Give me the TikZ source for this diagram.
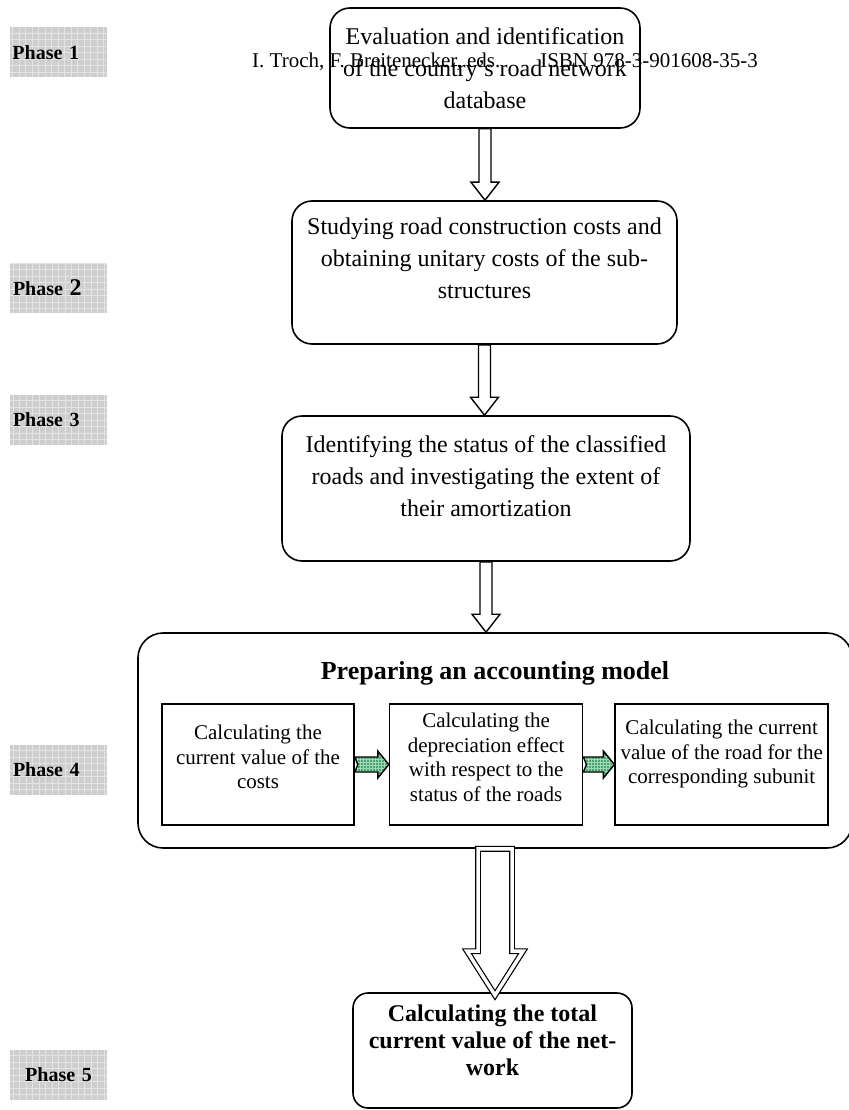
\documentclass[tikz,border=0pt]{standalone}
\usepackage{fontspec}
\setmainfont{Liberation Serif}
\usetikzlibrary{positioning, calc}
\definecolor{phasefill}{RGB}{206,206,206}
\definecolor{phasegrid}{RGB}{228,228,228}
\definecolor{arrowgreen}{RGB}{72,165,112}
\definecolor{arrowgrid}{RGB}{160,215,180}

\begin{document}
\begin{tikzpicture}[x=1pt, y=-1pt]
    \tikzstyle{stagebox} = [draw, line width=1.6pt, rounded corners=20pt, inner sep=0pt]
    \tikzstyle{subbox} = [draw, line width=1.6pt, inner sep=0pt, minimum height=121pt]
    \tikzstyle{stagetext} = [inner sep=0pt, align=center, font=\fontsize{24}{32}\selectfont]
    \tikzstyle{subtext} = [inner sep=0pt, align=center, font=\fontsize{21}{24.5}\selectfont]
    \tikzstyle{phaselabel} = [fill=phasefill, minimum width=97pt, minimum height=50pt, inner xsep=3pt, text width=91pt, align=left, font=\fontsize{20}{24}\selectfont\bfseries,
        path picture={\draw[phasegrid, line width=0.8pt, step=6.5pt] (path picture bounding box.south west) grid (path picture bounding box.north east);}]
    \tikzstyle{hollowarrow} = [draw, line width=1.4pt, fill=white, line join=miter]
    \tikzstyle{greenarrow} = [draw, line width=1.4pt, fill=arrowgreen, line join=miter,
        path picture={\draw[arrowgrid, line width=0.5pt, step=3pt] (path picture bounding box.south west) grid (path picture bounding box.north east);}]

    \useasboundingbox (0,0) rectangle (848,1110);

    % phase labels on the left
    \node [phaselabel] (p1) at (58,52.5) {Phase 1};
    \node [phaselabel] (p2) at (58.5,288) {Phase {\fontsize{24}{24}\selectfont 2}};
    \node [phaselabel] (p3) at (58.5,420) {Phase 3};
    \node [phaselabel] (p4) at (58.5,770) {Phase 4};
    \node [phaselabel, align=center] (p5) at (58.5,1075) {Phase 5};

    \node [anchor=base west, inner sep=0pt, font=\fontsize{21}{24}\selectfont] (hdr) at (252,68) {I. Troch, F. Breitenecker, eds.\hspace{40pt}ISBN 978-3-901608-35-3};

    % main stages
    \node [stagebox, stagetext, minimum width=310pt, minimum height=120pt] (b1) at (485,68) {Evaluation and identification\\of the country's road network\\database};

    \node [stagebox, minimum width=385pt, minimum height=143pt] (b2) at (484.5,272.5) {};
    \node [stagetext, below=17.6pt of b2.north] (t2) {Studying road construction costs and\\obtaining unitary costs of the sub-\\structures};

    \node [stagebox, minimum width=408pt, minimum height=145pt] (b3) at (486,488.5) {};
    \node [stagetext, below=20.6pt of b3.north] (t3) {Identifying the status of the classified\\roads and investigating the extent of\\their amortization};

    \node [stagebox, rounded corners=25pt, minimum width=714pt, minimum height=215pt] (b4) at (495,740.5) {};
    \node [inner sep=0pt, font=\fontsize{26}{30}\selectfont\bfseries, below=29.4pt of b4.north] (t4) {Preparing an accounting model};

    % accounting sub-steps
    \node [subbox, minimum width=192pt] (sa) at (258,764.5) {};
    \node [subbox, minimum width=193pt, right=34pt of sa] (sb) {};
    \node [subbox, minimum width=213pt, right=31pt of sb] (sc) {};
    \node [subtext, below=21.7pt of sa.north] (ta) {Calculating the\\current value of the\\costs};
    \node [subtext, below=9.7pt of sb.north] (tb) {Calculating the\\depreciation effect\\with respect to the\\status of the roads};
    \node [subtext, below=16.7pt of sc.north] (tc) {Calculating the current\\value of the road for the\\corresponding subunit};

    \node [stagebox, rounded corners=15pt, minimum width=279pt, minimum height=115pt] (b5) at (492.5,1050.5) {};
    \node [inner sep=0pt, align=center, font=\fontsize{24}{27}\selectfont\bfseries, below=12.8pt of b5.north] (t5) {Calculating the total\\current value of the net-\\work};

    % connectors
    \draw [hollowarrow] let \p1=(b1.south), \p2=(b2.north) in ({\x1-6pt},\y1) -- ({\x1+6pt},\y1) -- ({\x1+6pt},{\y2+18pt}) -- ({\x1+14pt},{\y2+18pt}) -- (\x1,\y2) -- ({\x1-14pt},{\y2+18pt}) -- ({\x1-6pt},{\y2+18pt}) -- cycle;
    \draw [hollowarrow] let \p1=(b2.south), \p2=(b3.north) in ({\x1-6pt},\y1) -- ({\x1+6pt},\y1) -- ({\x1+6pt},{\y2+18pt}) -- ({\x1+14pt},{\y2+18pt}) -- (\x1,\y2) -- ({\x1-14pt},{\y2+18pt}) -- ({\x1-6pt},{\y2+18pt}) -- cycle;
    \draw [hollowarrow] let \p1=(b3.south), \p2=(b4.north) in ({\x1-6pt},\y1) -- ({\x1+6pt},\y1) -- ({\x1+6pt},{\y2+18pt}) -- ({\x1+14pt},{\y2+18pt}) -- (\x1,\y2) -- ({\x1-14pt},{\y2+18pt}) -- ({\x1-6pt},{\y2+18pt}) -- cycle;

    \draw [greenarrow] let \p1=(sa.east), \p2=(sb.west) in (\x1,{\y1+7.5pt}) -- ({\x2-11pt},{\y1+7.5pt}) -- ({\x2-11pt},{\y1+13.5pt}) -- (\x2,\y1) -- ({\x2-11pt},{\y1-13.5pt}) -- ({\x2-11pt},{\y1-7.5pt}) -- (\x1,{\y1-7.5pt}) -- ({\x1+3pt},\y1) -- cycle;
    \draw [greenarrow] let \p1=(sb.east), \p2=(sc.west) in (\x1,{\y1+7.5pt}) -- ({\x2-11pt},{\y1+7.5pt}) -- ({\x2-11pt},{\y1+13.5pt}) -- (\x2,\y1) -- ({\x2-11pt},{\y1-13.5pt}) -- ({\x2-11pt},{\y1-7.5pt}) -- (\x1,{\y1-7.5pt}) -- ({\x1+3pt},\y1) -- cycle;

    \draw [double, double distance=3.5pt, line width=1.2pt, line join=miter] let \p1=(b4.south), \p2=(b5.north) in ({\x1-17pt},\y1) -- ({\x1+17pt},\y1) -- ({\x1+17pt},{\y2+41pt}) -- ({\x1+28pt},{\y2+41pt}) -- (\x1,{\y2-3pt}) -- ({\x1-28pt},{\y2+41pt}) -- ({\x1-17pt},{\y2+41pt}) -- cycle;
\end{tikzpicture}
\end{document}
